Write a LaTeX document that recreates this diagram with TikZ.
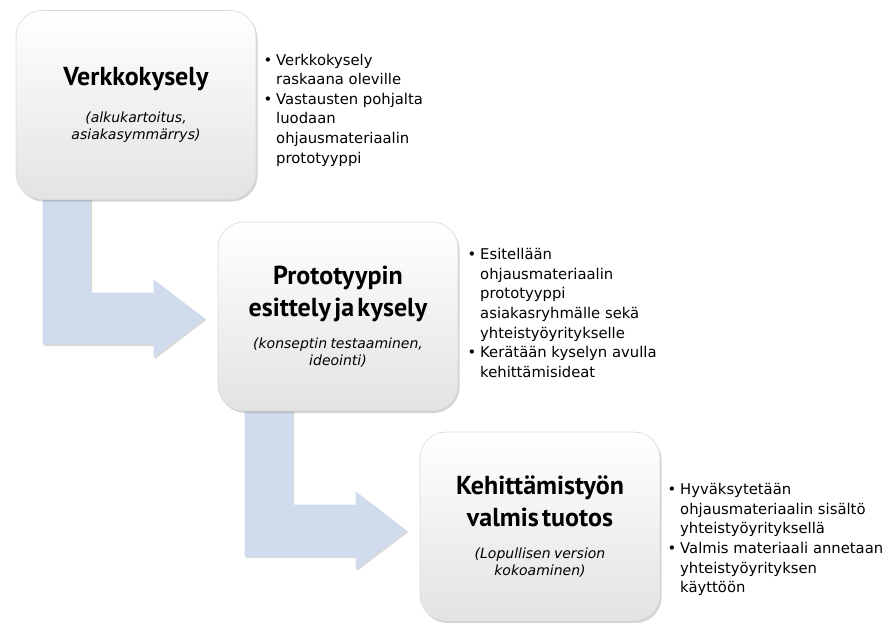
\documentclass[tikz,border=0pt]{standalone}
\usepackage{fontspec}
\setmainfont{DejaVu Sans}
\newfontfamily\titlefont{PT Sans}[WordSpace=1.5]
\usetikzlibrary{positioning,shadows,calc,backgrounds}

\definecolor{arrowblue}{RGB}{208,220,238}
\definecolor{boxline}{RGB}{218,218,218}
\newcommand{\stagetitle}[1]{\vspace*{5pt}{\titlefont\fontsize{26}{27}\selectfont\bfseries #1\par}}
\newcommand{\stagenote}[1]{{\fontsize{14}{16.5}\selectfont\itshape #1\par}}

\begin{document}
\begin{tikzpicture}
		[x=1pt,y=-1pt,
		stagebox/.style={rectangle, rounded corners=26pt, draw=boxline, line width=0.6pt, top color=white, bottom color=black!11, minimum width=240pt, minimum height=189pt, text width=236pt, align=center, inner sep=0pt, drop shadow={shadow xshift=1.5pt, shadow yshift=-2pt, opacity=0.35}},
		bullettext/.style={inner sep=0pt, font=\fontsize{14.8}{19.6}\selectfont},
		blockarrow/.style={fill=arrowblue, drop shadow={shadow xshift=1.5pt, shadow yshift=-1.5pt, opacity=0.3}},
		]
		\useasboundingbox (0,0) rectangle (894,622);
		
		%Nodes
		\node[stagebox](verk) at (136,105) {\stagetitle{Verkkokysely}\vspace{15.5pt}\stagenote{(alkukartoitus,\\ asiakasymmärrys)}};
		\node[stagebox](proto) at (338,316.5) {\stagetitle{Prototyypin\\ esittely ja kysely}\vspace{15.5pt}\stagenote{(konseptin testaaminen,\\ ideointi)}};
		\node[stagebox](kehi) at (540,526.5) {\stagetitle{Kehittämistyön\\ valmis tuotos}\vspace{15.5pt}\stagenote{(Lopullisen version\\ kokoaminen)}};
		\node[bullettext](verkinfo)[below right=41pt and 7pt of verk.north east] {\begin{tabular}{@{}l@{\hspace{4pt}}l@{}}
			\textbullet & Verkkokysely\\
			& raskaana oleville\\
			\textbullet & Vastausten pohjalta\\
			& luodaan\\
			& ohjausmateriaalin\\
			& prototyyppi
		\end{tabular}};
		\node[bullettext](protoinfo)[below right=24pt and 9pt of proto.north east] {\begin{tabular}{@{}l@{\hspace{4pt}}l@{}}
			\textbullet & Esitellään\\
			& ohjausmateriaalin\\
			& prototyyppi\\
			& asiakasryhmälle sekä\\
			& yhteistyöyritykselle\\
			\textbullet & Kerätään kyselyn avulla\\
			& kehittämisideat
		\end{tabular}};
		\node[bullettext](kehiinfo)[below right=49pt and 7pt of kehi.north east] {\begin{tabular}{@{}l@{\hspace{4pt}}l@{}}
			\textbullet & Hyväksytetään\\
			& ohjausmateriaalin sisältö\\
			& yhteistyöyrityksellä\\
			\textbullet & Valmis materiaali annetaan\\
			& yhteistyöyrityksen\\
			& käyttöön
		\end{tabular}};
		%Arrows
		\coordinate (tipA) at ($(proto.west)+(-13,2)$);
		\coordinate (tipB) at ($(kehi.west)+(-13,4)$);
		\begin{pgfonlayer}{background}
			\fill[blockarrow] ($(verk.south west)+(27,-2)$) -- ++(48,0) |- ($(tipA)+(-51,-26)$) -- ++(0,-13) -- (tipA) -- ($(tipA)+(-51,39)$) -- ++(0,-13) -| ($(verk.south west)+(27,-2)$) -- cycle;
			\fill[blockarrow] ($(proto.south west)+(27,-2)$) -- ++(48,0) |- ($(tipB)+(-51,-26)$) -- ++(0,-13) -- (tipB) -- ($(tipB)+(-51,39)$) -- ++(0,-13) -| ($(proto.south west)+(27,-2)$) -- cycle;
		\end{pgfonlayer}
	\end{tikzpicture}
\end{document}
